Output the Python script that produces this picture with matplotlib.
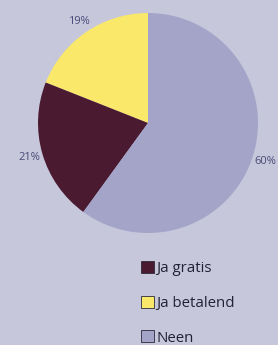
import matplotlib.pyplot as plt

labels = ['Ja betalend', 'Ja gratis', 'Neen']
values = [19, 21, 60]
colors = ['#f9e86a', '#4a1a30', '#a4a4c8']
legend_order = [1, 0, 2]

bg = '#c6c7db'
fig = plt.figure(figsize=(2.78, 3.45), dpi=100, facecolor=bg)
ax = fig.add_axes([38/278, 1 - 233/345, 220/278, 220/345])
ax.set_facecolor(bg)

wedges, texts, autotexts = ax.pie(values, colors=colors, startangle=90,
                                  counterclock=True, autopct='%d%%',
                                  pctdistance=1.12,
                                  wedgeprops=dict(linewidth=0))
for t in autotexts:
    t.set_color('#4a4a78')
    t.set_fontsize(8)
    t.set_fontfamily('Open Sans')
ax.set_xlim(-1, 1)
ax.set_ylim(-1, 1)
ax.set_aspect('equal')

handles = [wedges[i] for i in legend_order]
names = [labels[i] for i in legend_order]
leg = fig.legend(handles, names, loc='upper left',
                 bbox_to_anchor=(141/278, 1 - 261/345),
                 frameon=False, handlelength=0.85,
                 handleheight=0.85, handletextpad=0.15, labelspacing=1.3,
                 borderpad=0, borderaxespad=0,
                 prop={'family': 'Open Sans', 'size': 10.8})
for h in leg.legend_handles:
    h.set_edgecolor('#2a2a3a')
    h.set_linewidth(0.6)
for t in leg.get_texts():
    t.set_color('#222233')

fig.savefig('out.png', dpi=100, facecolor=bg)
